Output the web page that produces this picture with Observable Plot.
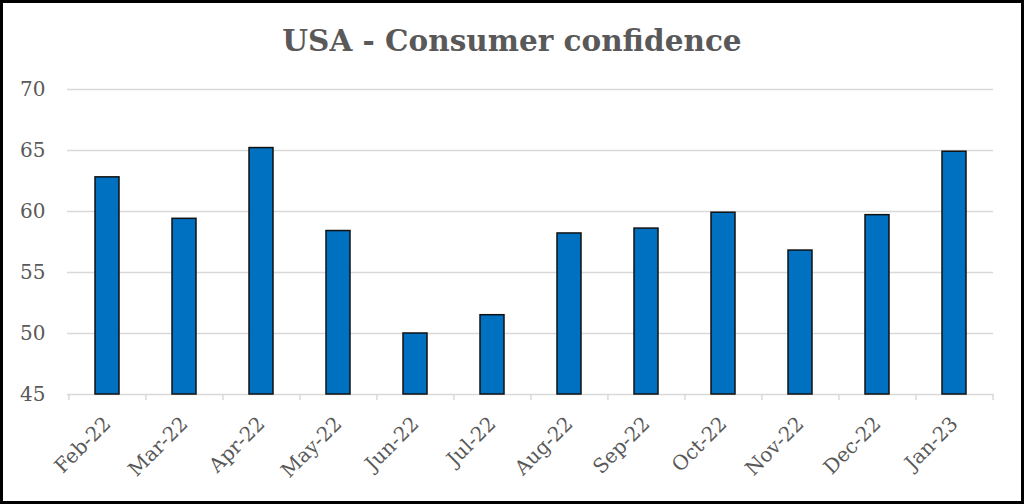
<!DOCTYPE html>
<html>
<head>
<meta charset="utf-8">
<script src="https://cdn.jsdelivr.net/npm/d3@7"></script>
<script src="https://cdn.jsdelivr.net/npm/@observablehq/plot@0.6"></script>
<style>
  html, body { margin: 0; padding: 0; background: #fff; }
  #frame {
    position: relative;
    width: 1024px; height: 504px;
    box-sizing: border-box;
    border: 3px solid #000;
    background: #fff;
    overflow: hidden;
  }
  #title {
    height: 67px;
    text-align: center;
    font-family: "DejaVu Serif", Georgia, serif;
    font-weight: bold;
    font-size: 29.5px;
    color: #595959;
    line-height: 76px;
  }
</style>
</head>
<body>
<div id="frame">
  <div id="title">USA - Consumer confidence</div>
  <div id="chart"></div>
</div>
<script>
// Monthly consumer confidence readings, Feb 2022 – Jan 2023
const months = ["Feb-22", "Mar-22", "Apr-22", "May-22", "Jun-22", "Jul-22",
                "Aug-22", "Sep-22", "Oct-22", "Nov-22", "Dec-22", "Jan-23"];
const confidence = [62.8, 59.4, 65.2, 58.4, 50.0, 51.5, 58.2, 58.6, 59.9, 56.8, 59.7, 64.9];
const yTicks = [45, 50, 55, 60, 65, 70];

const data = months.map((m, i) => ({month: m, value: confidence[i]}));

const width = 1018, height = 431;
const marginLeft = 64, marginRight = 28, marginTop = 19, marginBottom = 107;
const step = (width - marginLeft - marginRight) / months.length;
const grey = "#595959";
const font = "'DejaVu Serif', Georgia, serif";

const chart = Plot.plot({
  width, height, marginLeft, marginRight, marginTop, marginBottom,
  style: {fontFamily: font, background: "transparent"},
  x: {domain: months, paddingInner: 0.69, paddingOuter: 0.345, label: null},
  y: {domain: [45, 70], label: null},
  marks: [
    Plot.gridY(yTicks, {stroke: "#d9d9d9", strokeOpacity: 1, strokeWidth: 1.5}),
    // category boundary ticks below the baseline
    Plot.ruleX(months, {x: d => d, y1: 45, y2: 44.5, dx: -step / 2, stroke: "#d9d9d9", strokeWidth: 1.5}),
    Plot.ruleX(months.slice(-1), {x: d => d, y1: 45, y2: 44.5, dx: step / 2, stroke: "#d9d9d9", strokeWidth: 1.5}),
    Plot.barY(data, {x: "month", y1: 45, y2: "value", fill: "#0070C0", stroke: "#111", strokeWidth: 1.5}),
    Plot.axisY({ticks: yTicks, tickSize: 0, tickPadding: 22, fontSize: 20, fill: grey}),
    Plot.axisX({tickSize: 0, tickRotate: -45, tickPadding: 26, fontSize: 20, fill: grey})
  ]
});
document.getElementById("chart").appendChild(chart);
</script>
</body>
</html>
